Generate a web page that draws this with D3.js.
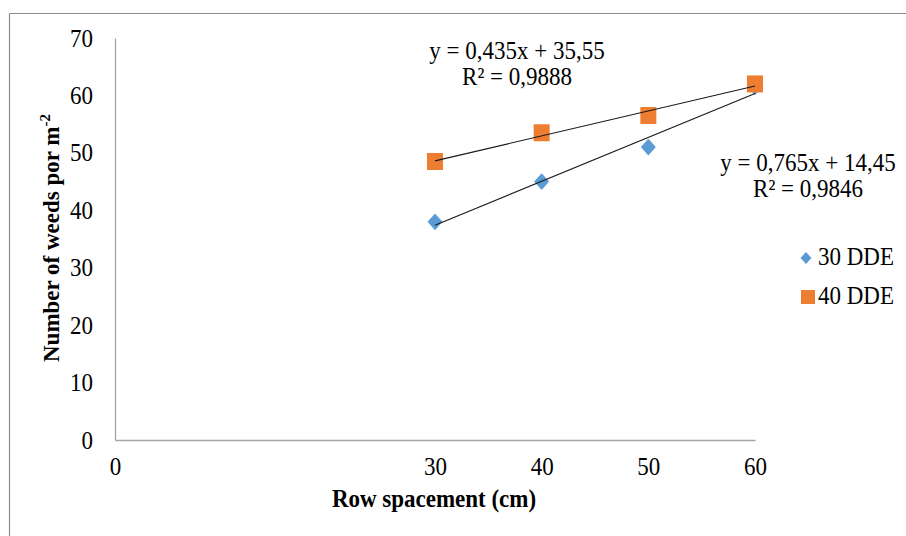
<!DOCTYPE html>
<html>
<head>
<meta charset="utf-8">
<script src="https://cdn.jsdelivr.net/npm/d3@7"></script>
</head>
<body style="margin:0; background:#fff">
<div id="content"></div>
<script>
// data
const xValues = [30, 40, 50, 60];
const dde30 = [38, 45, 51, 61.5];
const dde40 = [48.5, 53.5, 56.5, 62];
const seriesNames = ["30 DDE", "40 DDE"];
const xTicks = [0, 30, 40, 50, 60];
const yTicks = [0, 10, 20, 30, 40, 50, 60, 70];
const trend30 = { slope: 0.765, intercept: 14.45, eq: "y = 0,765x + 14,45", r2: "R² = 0,9846" };
const trend40 = { slope: 0.435, intercept: 35.55, eq: "y = 0,435x + 35,55", r2: "R² = 0,9888" };

const FONT = "'Liberation Serif'";
const FS = "23px";
const SY = 1.1; // text in the original is stretched a bit vertically
const width = 906, height = 536;
const svg = d3.select("#content").append("svg")
  .attr("width", width).attr("height", height);

// outer frame (only top and left show)
svg.append("line").attr("x1", 9.5).attr("y1", 13.5).attr("x2", width).attr("y2", 13.5)
  .style("stroke", "#8c8c8c").style("stroke-width", 1.2);
svg.append("line").attr("x1", 9.5).attr("y1", 13.5).attr("x2", 9.5).attr("y2", height)
  .style("stroke", "#8c8c8c").style("stroke-width", 1.2);

const x = d3.scaleLinear().domain([0, 60]).range([115, 755]);
const y = d3.scaleLinear().domain([0, 70]).range([440, 38]);

// axes
const xAxis = svg.append("g").attr("transform", "translate(0,440)")
  .call(d3.axisBottom(x).tickValues(xTicks).tickSize(0));
const yAxis = svg.append("g").attr("transform", "translate(115,0)")
  .call(d3.axisLeft(y).tickValues(yTicks).tickSize(0));
[xAxis, yAxis].forEach(function(ax){
  ax.select(".domain").style("stroke", "#a6a6a6").style("stroke-width", 1.3);
  ax.selectAll("text").attr("fill", "#000")
    .style("font-family", FONT).style("font-size", FS)
    .attr("dy", null).attr("transform", "scale(1," + SY + ")");
});
xAxis.selectAll("text").attr("y", 35 / SY);
yAxis.selectAll("text").attr("x", -22).attr("y", 8 / SY);

function label(tx, ty, txt){
  return svg.append("text")
    .attr("transform", "translate(" + tx + "," + ty + ") scale(1," + SY + ")")
    .attr("text-anchor", "middle")
    .style("font-family", FONT).style("font-size", FS)
    .text(txt);
}

// axis titles
label(434, 507, "Row spacement (cm)").style("font-weight", "bold");
const yt = svg.append("text").attr("transform", "translate(59,238) rotate(-90)")
  .attr("text-anchor", "middle")
  .style("font-family", FONT).style("font-size", FS).style("font-weight", "bold");
yt.append("tspan").text("Number  of weeds por m");
yt.append("tspan").attr("dy", -9).style("font-size", "15px").text("-2");

// markers
const diamond = d3.symbol().type(d3.symbolSquare).size(112);
svg.selectAll(".d30").data(xValues).enter().append("path")
  .attr("class", "d30")
  .attr("d", diamond)
  .attr("transform", function(d, i){ return "translate(" + x(d) + "," + y(dde30[i]) + ") scale(1,1.12) rotate(45)"; })
  .style("fill", "#5b9bd5");
svg.selectAll(".d40").data(xValues).enter().append("rect")
  .attr("class", "d40")
  .attr("x", function(d){ return x(d) - 8; })
  .attr("y", function(d, i){ return y(dde40[i]) - 8.5; })
  .attr("width", 16).attr("height", 17)
  .style("fill", "#ed7d31");

// trendlines
[trend40, trend30].forEach(function(t){
  svg.append("line")
    .attr("x1", x(30)).attr("y1", y(t.slope * 30 + t.intercept))
    .attr("x2", x(60)).attr("y2", y(t.slope * 60 + t.intercept))
    .style("stroke", "#1a1a1a").style("stroke-width", 1.1);
});

// equation labels
label(517, 59, trend40.eq);
label(517, 85, trend40.r2);
label(808, 171, trend30.eq);
label(808, 197, trend30.r2);

// legend
svg.append("path").attr("d", d3.symbol().type(d3.symbolSquare).size(60))
  .attr("transform", "translate(806,258) scale(1,1.1) rotate(45)").style("fill", "#5b9bd5");
svg.append("rect").attr("x", 801).attr("y", 290).attr("width", 14).attr("height", 14)
  .style("fill", "#ed7d31");
label(818, 265, seriesNames[0]).attr("text-anchor", "start");
label(818, 304, seriesNames[1]).attr("text-anchor", "start");
</script>
</body>
</html>
